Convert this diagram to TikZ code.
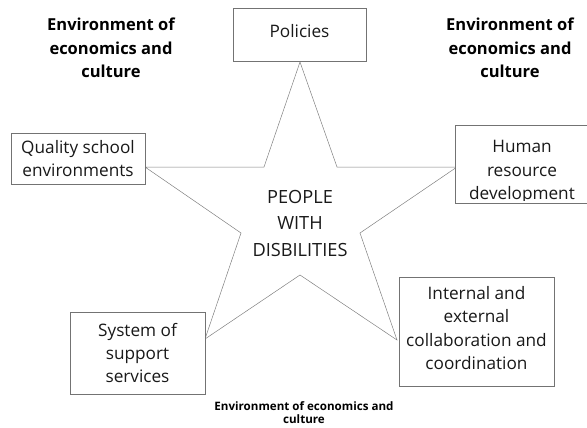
\documentclass[tikz,border=0pt]{standalone}
\usepackage{fontspec}
\setmainfont{Open Sans}
\begin{document}
\begin{tikzpicture}[x=1pt,y=-1pt,
  boxline/.style={draw=black!55, line width=0.8pt},
  box/.style={boxline, fill=white, rectangle, inner sep=0pt, align=center,
    font=\fontsize{17.2}{23.4}\selectfont, text=black!90},
  txt/.style={align=center, inner sep=0pt, font=\fontsize{17.2}{23.4}\selectfont, text=black!90},
  bigtxt/.style={align=center, inner sep=0pt, font=\fontsize{18.2}{26.5}\selectfont, text=black!90},
  envlbl/.style={align=center, inner sep=0pt, font=\bfseries\fontsize{16.5}{23.5}\selectfont},
  envsmall/.style={align=center, inner sep=0pt, font=\bfseries\fontsize{11.6}{13}\selectfont},
  starline/.style={draw=black!50, line width=0.5pt}]
\useasboundingbox (0,0) rectangle (587,428);

% star points
\coordinate (top) at (300,62);
\coordinate (iul) at (264,167);
\coordinate (iur) at (337,167);
\coordinate (ol) at (145,167);
\coordinate (or) at (457,167);
\coordinate (il) at (241,233);
\coordinate (ir) at (360,233);
\coordinate (oll) at (205,339);
\coordinate (olr) at (397,340);
\coordinate (ib) at (300,275);

\draw[starline] (top) -- (iur) -- (or) -- (ir) -- (olr) -- (ib) -- (oll) -- (il) -- (ol) -- (iul) -- cycle;

% boxes
\node[box, minimum width=133pt, minimum height=53pt] (pol) at (299.5,34.5) {};
\node[txt] (poltxt) at (299.5,31) {Policies};
\node[box, minimum width=134pt, minimum height=51pt] (qual) at (78,158.5) {Quality school\\environments};
\node[box, minimum width=135pt, minimum height=82pt] (sys) at (137.5,353) {System of\\support\\services};
\node[box, minimum width=155pt, minimum height=109pt] (intl) at (476.5,331.5) {};
\node[txt] (intltxt) at (476.5,328) {Internal and\\external\\collaboration and\\coordination};
\node[rectangle, fill=white, inner sep=0pt, minimum width=132pt, minimum height=78pt] (hum) at (522,164.5) {};
\draw[boxline] (hum.north east) -- (hum.north west) -- (hum.south west) -- (hum.south east);
\begin{scope}
\clip (440,120) rectangle (587,200.5);
\node[txt] (humtxt) at (522,172.2) {Human\\resource\\development};
\end{scope}

% centre text
\node[bigtxt] (people) at (300,223) {PEOPLE\\WITH\\DISBILITIES};

% environment labels
\node[envlbl] (envl) at (111,48) {Environment of\\economics and\\culture};
\node[envlbl] (envr) at (510,48) {Environment of\\economics and\\culture};
\node[envsmall] (envb) at (304,413) {Environment of economics and\\culture};
\end{tikzpicture}
\end{document}
